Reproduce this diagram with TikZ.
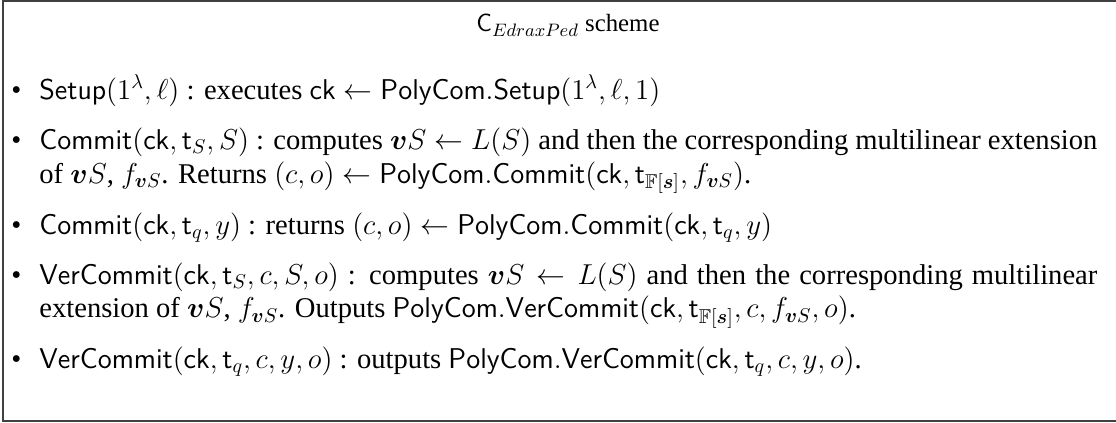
\documentclass[tikz,border=0pt]{standalone}
\usepackage{amsmath,amssymb}
\usepackage{fontspec}
\setmainfont{Liberation Serif}
\tikzset{
  itembox/.style={anchor=base west, inner sep=0pt, text width=529pt, align=justify,
    font=\fontsize{14.3}{17}\selectfont},
  titlebox/.style={anchor=base, inner sep=0pt, font=\fontsize{12.4}{15}\selectfont},
  frameline/.style={draw=black!75, line width=0.75pt}
}
\newcommand{\itbul}{\llap{\textbullet\hspace{9pt}}}
\newcommand{\bv}{\boldsymbol{v}}
\begin{document}
\begin{tikzpicture}[x=0.5pt,y=-0.5pt]
\useasboundingbox (0,0) rectangle (1116,423);
\coordinate (tr) at (1116,1);
\coordinate (tl) at (3,1);
\coordinate (bl) at (3,421);
\coordinate (br) at (1116,421);
\draw[frameline] (tr) -- (tl) -- (bl) -- (br);
\node[titlebox] (title) at (568,32) {$\mathsf{C}_{EdraxPed}$ scheme};
\node[itembox] (i1) at (39,99) {\itbul$\mathsf{Setup}(1^\lambda,\ell)$ : executes $\mathsf{ck}\leftarrow\mathsf{PolyCom.Setup}(1^\lambda,\ell,1)$};
\node[itembox] (i2) at (39,149) {\itbul$\mathsf{Commit}(\mathsf{ck},\mathsf{t}_S,S)$ : computes $\bv S\leftarrow L(S)$ and then the corresponding multilinear extension\linebreak of $\bv S$, $f_{\bv S}$. Returns $(c,o)\leftarrow\mathsf{PolyCom.Commit}(\mathsf{ck},\mathsf{t}_{\mathbb{F}[\boldsymbol{s}]},f_{\bv S})$.};
\node[itembox] (i3) at (39,234) {\itbul$\mathsf{Commit}(\mathsf{ck},\mathsf{t}_q,y)$ : returns $(c,o)\leftarrow\mathsf{PolyCom.Commit}(\mathsf{ck},\mathsf{t}_q,y)$};
\node[itembox] (i4) at (39,284) {\itbul$\mathsf{VerCommit}(\mathsf{ck},\mathsf{t}_S,c,S,o)$ : computes $\bv S\leftarrow L(S)$ and then the corresponding multilinear\linebreak extension of $\bv S$, $f_{\bv S}$. Outputs $\mathsf{PolyCom.VerCommit}(\mathsf{ck},\mathsf{t}_{\mathbb{F}[\boldsymbol{s}]},c,f_{\bv S},o)$.};
\node[itembox] (i5) at (39,368) {\itbul$\mathsf{VerCommit}(\mathsf{ck},\mathsf{t}_q,c,y,o)$ : outputs $\mathsf{PolyCom.VerCommit}(\mathsf{ck},\mathsf{t}_q,c,y,o)$.};
\end{tikzpicture}
\end{document}
